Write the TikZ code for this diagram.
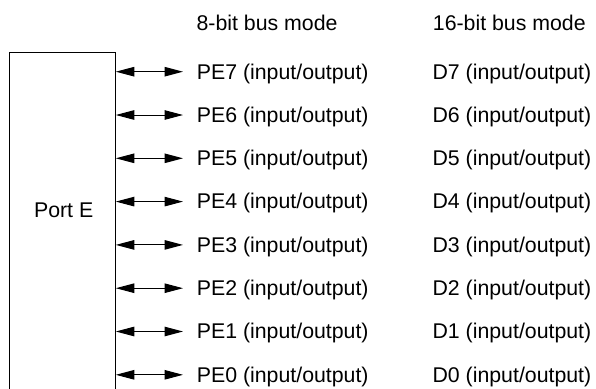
\documentclass[tikz,border=0pt]{standalone}
\usepackage{fontspec}
\setmainfont{Liberation Sans}
\usetikzlibrary{arrows.meta}
\tikzset{
  lbl/.style={anchor=base west, inner sep=0pt, font=\fontsize{21.3}{25}\selectfont},
  portbox/.style={draw, line width=1pt, rectangle, inner sep=0pt, minimum width=106.3pt, minimum height=380pt},
  bidir/.style={line width=1pt, {Triangle[length=18.5pt,width=9.5pt]}-{Triangle[length=18.5pt,width=9.5pt]}}
}
\begin{document}
\begin{tikzpicture}[x=1pt,y=-1pt]
\useasboundingbox (0,0) rectangle (596,388);
\clip (0,0) rectangle (596,388);
\node[portbox] (port) at (62.15,242.3) {};
\node[lbl, anchor=base] (portlbl) at (63.7,217.3) {Port E};
\node[lbl] (h8) at (196.4,30) {8-bit bus mode};
\node[lbl] (h16) at (432.7,30) {16-bit bus mode};
\foreach \i/\n in {0/7,1/6,2/5,3/4,4/3,5/2,6/1,7/0}{
  \pgfmathsetmacro{\yy}{71.7+\i*43.3}
  \coordinate (a\n) at (183,\yy);
  \node[lbl] (pe\n) at (196.7,\yy+7.3) {PE\n\ (input/output)};
  \node[lbl] (d\n) at (432.4,\yy+7.3) {D\n\ (input/output)};
  \draw[bidir] (port.east |- a\n) -- (a\n);
}
\end{tikzpicture}
\end{document}
